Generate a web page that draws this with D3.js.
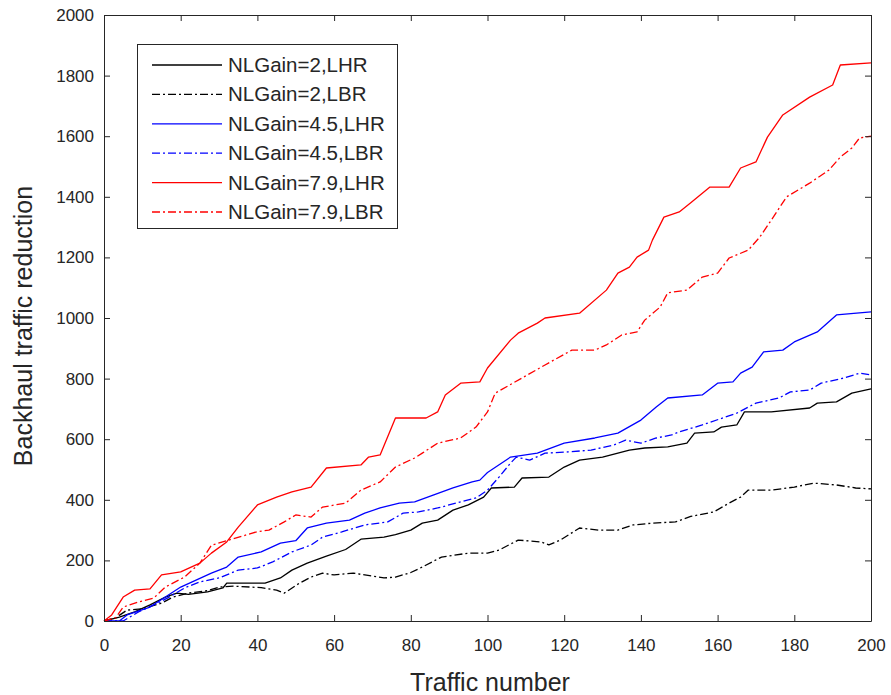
<!DOCTYPE html>
<html>
<head>
<meta charset="utf-8">
<script src="https://cdn.jsdelivr.net/npm/d3@7"></script>
<style>
  html, body { margin: 0; padding: 0; background: #fff; }
  svg { display: block; }
  text { font-family: "Liberation Sans", Arial, sans-serif; fill: #262626; }
</style>
</head>
<body>
<svg id="chart" width="891" height="695"></svg>
<script>
// ---------- data ----------
const xTicks = [0, 20, 40, 60, 80, 100, 120, 140, 160, 180, 200];
const yTicks = [0, 200, 400, 600, 800, 1000, 1200, 1400, 1600, 1800, 2000];

const lhr2X = [0,4,8,12,16,19,22,27,31,32,42,46,49,53,58,63,67,73,76,80,83,87,91,95,99,101,107,109,116,120,124,130,137,141,147,152,154,159,161,165,167,174,184,186,191,195,200];
const lhr2Y = [0,13,30,53,79,92,88,96,109,125,125,142,168,191,214,236,270,277,285,300,323,333,366,383,409,439,442,472,475,508,531,541,564,571,575,587,620,624,640,647,690,690,703,719,723,752,766];

const lbr2X = [0,3,6,10,15,18,22,27,30,34,41,45,47,51,54,57,60,65,68,73,76,80,83,88,95,100,103,108,114,116,119,124,129,134,138,143,149,153,159,163,166,168,174,180,185,191,196,200];
const lbr2Y = [0,10,36,40,59,79,92,100,112,115,110,102,92,125,145,158,152,158,152,142,145,160,178,211,224,224,234,267,261,251,267,307,300,300,317,323,327,345,360,389,409,432,432,442,455,449,439,436];

const lhr45X = [0,4,6,12,16,20,23,28,32,35,41,46,50,53,58,64,68,72,77,81,86,91,96,98,100,106,113,120,128,134,140,144,147,156,160,164,166,169,172,177,180,186,191,200];
const lhr45Y = [0,0,20,46,79,112,129,158,178,211,228,257,265,307,323,333,356,373,389,393,416,439,459,465,490,541,554,587,604,620,663,706,736,746,785,789,818,838,888,894,921,954,1010,1020];

const lbr45X = [0,5,9,14,17,21,25,30,35,40,44,49,54,57,62,68,74,78,82,87,93,97,100,103,106,107.5,111,115,121,127,133,136,140,144,148,150,156,165,170,176,179,184,187,193,197,200];
const lbr45Y = [0,0,30,59,79,109,129,142,168,175,195,228,251,277,294,317,327,356,360,373,393,406,432,475,521,541,531,554,558,564,581,597,587,604,614,624,647,686,719,736,756,762,785,802,818,812];

const lhr79X = [0,2,5,8,12,15,20,25,28,32,35,40,45,49,54,58,67,69,72,76,84,87,89,93,98,100,106,108,113,115,124,131,134,137,139,142,143,146,150,153,158,163,166,170,173,177,184,190,192,200];
const lhr79Y = [0,20,79,102,106,152,162,191,224,261,310,383,409,426,442,505,515,541,548,670,670,690,746,785,789,835,927,950,983,1000,1016,1092,1148,1168,1201,1224,1257,1333,1350,1380,1432,1432,1495,1515,1597,1670,1729,1769,1835,1842];

const lbr79X = [0,3,5,9,13,16,21,25,28,32,36,40,43,47,50,54,57,63,67,72,76,81,83,87,93,97,100,102,109,115,122,128,131,135,139,141,145,147,152,156,160,163,168,171,174,178,184,189,192,195,197,200];
const lbr79Y = [0,10,46,63,76,112,145,191,250,265,280,295,300,327,350,343,376,389,432,459,508,538,554,587,604,640,690,752,802,845,894,894,911,944,954,993,1036,1083,1092,1135,1148,1198,1224,1267,1323,1400,1445,1488,1531,1561,1594,1600];

const seriesNames = ["NLGain=2,LHR","NLGain=2,LBR","NLGain=4.5,LHR","NLGain=4.5,LBR","NLGain=7.9,LHR","NLGain=7.9,LBR"];
const seriesX = [lhr2X, lbr2X, lhr45X, lbr45X, lhr79X, lbr79X];
const seriesY = [lhr2Y, lbr2Y, lhr45Y, lbr45Y, lhr79Y, lbr79Y];
const seriesColor = ["#000000","#000000","#0000ff","#0000ff","#ff0000","#ff0000"];
const seriesDash = [null,"8,3,2,3",null,"8,3,2,3",null,"8,3,2,3"];

// ---------- layout ----------
const L = 104, R = 871, T = 15, B = 621;
const svg = d3.select("#chart");
const x = d3.scaleLinear().domain([0, 200]).range([L, R]);
const y = d3.scaleLinear().domain([0, 2000]).range([B, T]);

// lines
const line = d3.line().x(d => x(d[0])).y(d => y(d[1]));
const gLines = svg.append("g");
seriesNames.forEach((name, i) => {
  const pts = seriesX[i].map((xv, k) => [xv, seriesY[i][k]]);
  gLines.append("path")
    .attr("d", line(pts))
    .attr("fill", "none")
    .attr("stroke", seriesColor[i])
    .attr("stroke-width", 1.3)
    .attr("stroke-dasharray", seriesDash[i])
    .attr("stroke-linejoin", "round");
});

// axes (MATLAB style, inward ticks, box)
const tickLen = 6;
const fmt = d3.format("d");
const xAxisB = d3.axisBottom(x).tickValues(xTicks).tickFormat(fmt).tickSizeInner(-tickLen).tickSizeOuter(0).tickPadding(18);
const xAxisT = d3.axisTop(x).tickValues(xTicks).tickSizeInner(-tickLen).tickSizeOuter(0).tickFormat("");
const yAxisL = d3.axisLeft(y).tickValues(yTicks).tickFormat(fmt).tickSizeInner(-tickLen).tickSizeOuter(0).tickPadding(10);
const yAxisR = d3.axisRight(y).tickValues(yTicks).tickSizeInner(-tickLen).tickSizeOuter(0).tickFormat("");

function style(g) {
  g.selectAll("path").attr("stroke", "#262626").attr("stroke-width", 1);
  g.selectAll("line").attr("stroke", "#262626").attr("stroke-width", 1);
  g.selectAll("text").attr("font-size", 17).attr("fill", "#262626")
    .attr("font-family", "'Liberation Sans', Arial, sans-serif");
}
svg.append("g").attr("transform", `translate(0,${B})`).call(xAxisB).call(style);
svg.append("g").attr("transform", `translate(0,${T})`).call(xAxisT).call(style);
svg.append("g").attr("transform", `translate(${L},0)`).call(yAxisL).call(style);
svg.append("g").attr("transform", `translate(${R},0)`).call(yAxisR).call(style);

// axis titles
svg.append("text")
  .attr("x", 490).attr("y", 691)
  .attr("text-anchor", "middle")
  .attr("font-size", 25)
  .text("Traffic number");
svg.append("text")
  .attr("transform", `translate(32,326) rotate(-90)`)
  .attr("text-anchor", "middle")
  .attr("font-size", 25)
  .text("Backhaul traffic reduction");

// legend
const lg = svg.append("g");
lg.append("rect")
  .attr("x", 137.5).attr("y", 44.5).attr("width", 260).attr("height", 184)
  .attr("fill", "#fff").attr("stroke", "#262626").attr("stroke-width", 1);
seriesNames.forEach((name, i) => {
  const yy = 65 + i * 29.4;
  lg.append("line")
    .attr("x1", 152).attr("x2", 222).attr("y1", yy).attr("y2", yy)
    .attr("stroke", seriesColor[i]).attr("stroke-width", 1.3)
    .attr("stroke-dasharray", seriesDash[i]);
  lg.append("text")
    .attr("x", 228).attr("y", yy + 7)
    .attr("font-size", 20.5)
    .text(name);
});
</script>
</body>
</html>
